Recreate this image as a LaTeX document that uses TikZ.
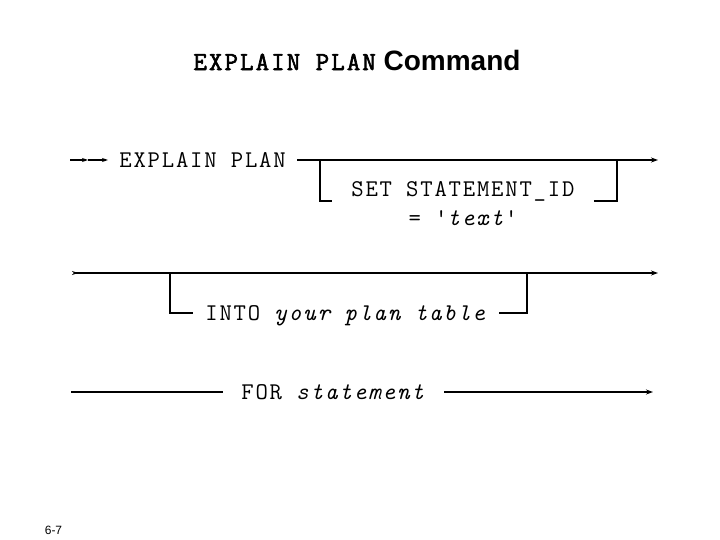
\documentclass[tikz,border=0pt]{standalone}
\usepackage{fontspec}
\setmainfont{Liberation Sans}
\newfontfamily\courier{Latin Modern Mono}[LetterSpace=7.5]
\newfontfamily\courierbold{Latin Modern Mono}[FakeBold=2.5,LetterSpace=8.3]
\usetikzlibrary{arrows.meta,positioning}

\begin{document}
\begin{tikzpicture}[
    x=1pt, y=-1pt,
    line width=2.8pt,
    syntax/.style={
      font=\courier\fontsize{24}{29}\selectfont,
      inner ysep=0pt,text height=14.5pt,text depth=0pt,anchor=west
    },
    rail/.style={-{Stealth[length=7pt,width=5pt]}},
    feed/.style={line width=1.6pt,-{Stealth[length=6pt,width=4pt]}}
  ]
  \useasboundingbox (0,0) rectangle (720,540);

  \node (title) at (357,60) {{\courierbold\fontsize{26}{30}\selectfont EXPLAIN PLAN}%
    {\bfseries\fontsize{28}{30}\selectfont\ Command}};

  % first row
  \coordinate (r1start) at (70,160);
  \coordinate (r1mid)   at (88,160);
  \coordinate (r1end)   at (658,160);
  \coordinate (b1l)     at (320,160);
  \coordinate (b1r)     at (617,160);
  \node (explain) [syntax,inner xsep=10pt] at (108,160) {EXPLAIN PLAN};
  \node (setid)   [syntax,inner xsep=18pt] at (332,189) {SET STATEMENT\_ID};
  \node (eqtext)  [syntax,anchor=center] at (463,218) {= '\textit{text}'};

  % second row
  \coordinate (r2start) at (72,273);
  \coordinate (r2end)   at (658,273);
  \coordinate (b2l)     at (170,273);
  \coordinate (b2r)     at (527,273);
  \node (into) [syntax,inner xsep=11pt] at (193,313) {INTO \textit{your plan table}};

  % third row
  \coordinate (r3start) at (71,392);
  \coordinate (r3end)   at (653,392);
  \node (forst) [syntax,inner xsep=17pt] at (223,392) {FOR \textit{statement}};

  \node (page) at (53.5,530) {\fontsize{12}{14}\selectfont 6-7};

  % draw rails
  \draw [feed] (r1start) -- (r1mid);
  \draw [feed] (r1mid) -- (explain.west);
  \draw [rail] (explain.east) -- (r1end);
  \draw [{Stealth[reversed,length=6pt,width=4pt]}-{Stealth[length=7pt,width=5pt]}] (r2start) -- (r2end);
  \draw (r3start) -- (forst.west);
  \draw [rail] (forst.east) -- (r3end);

  % optional branches
  \draw (b1l) |- ([yshift=-12pt]setid.west);
  \draw ([yshift=-12pt]setid.east) -| (b1r);
  \draw (b2l) |- (into.west);
  \draw (into.east) -| (b2r);
\end{tikzpicture}
\end{document}
